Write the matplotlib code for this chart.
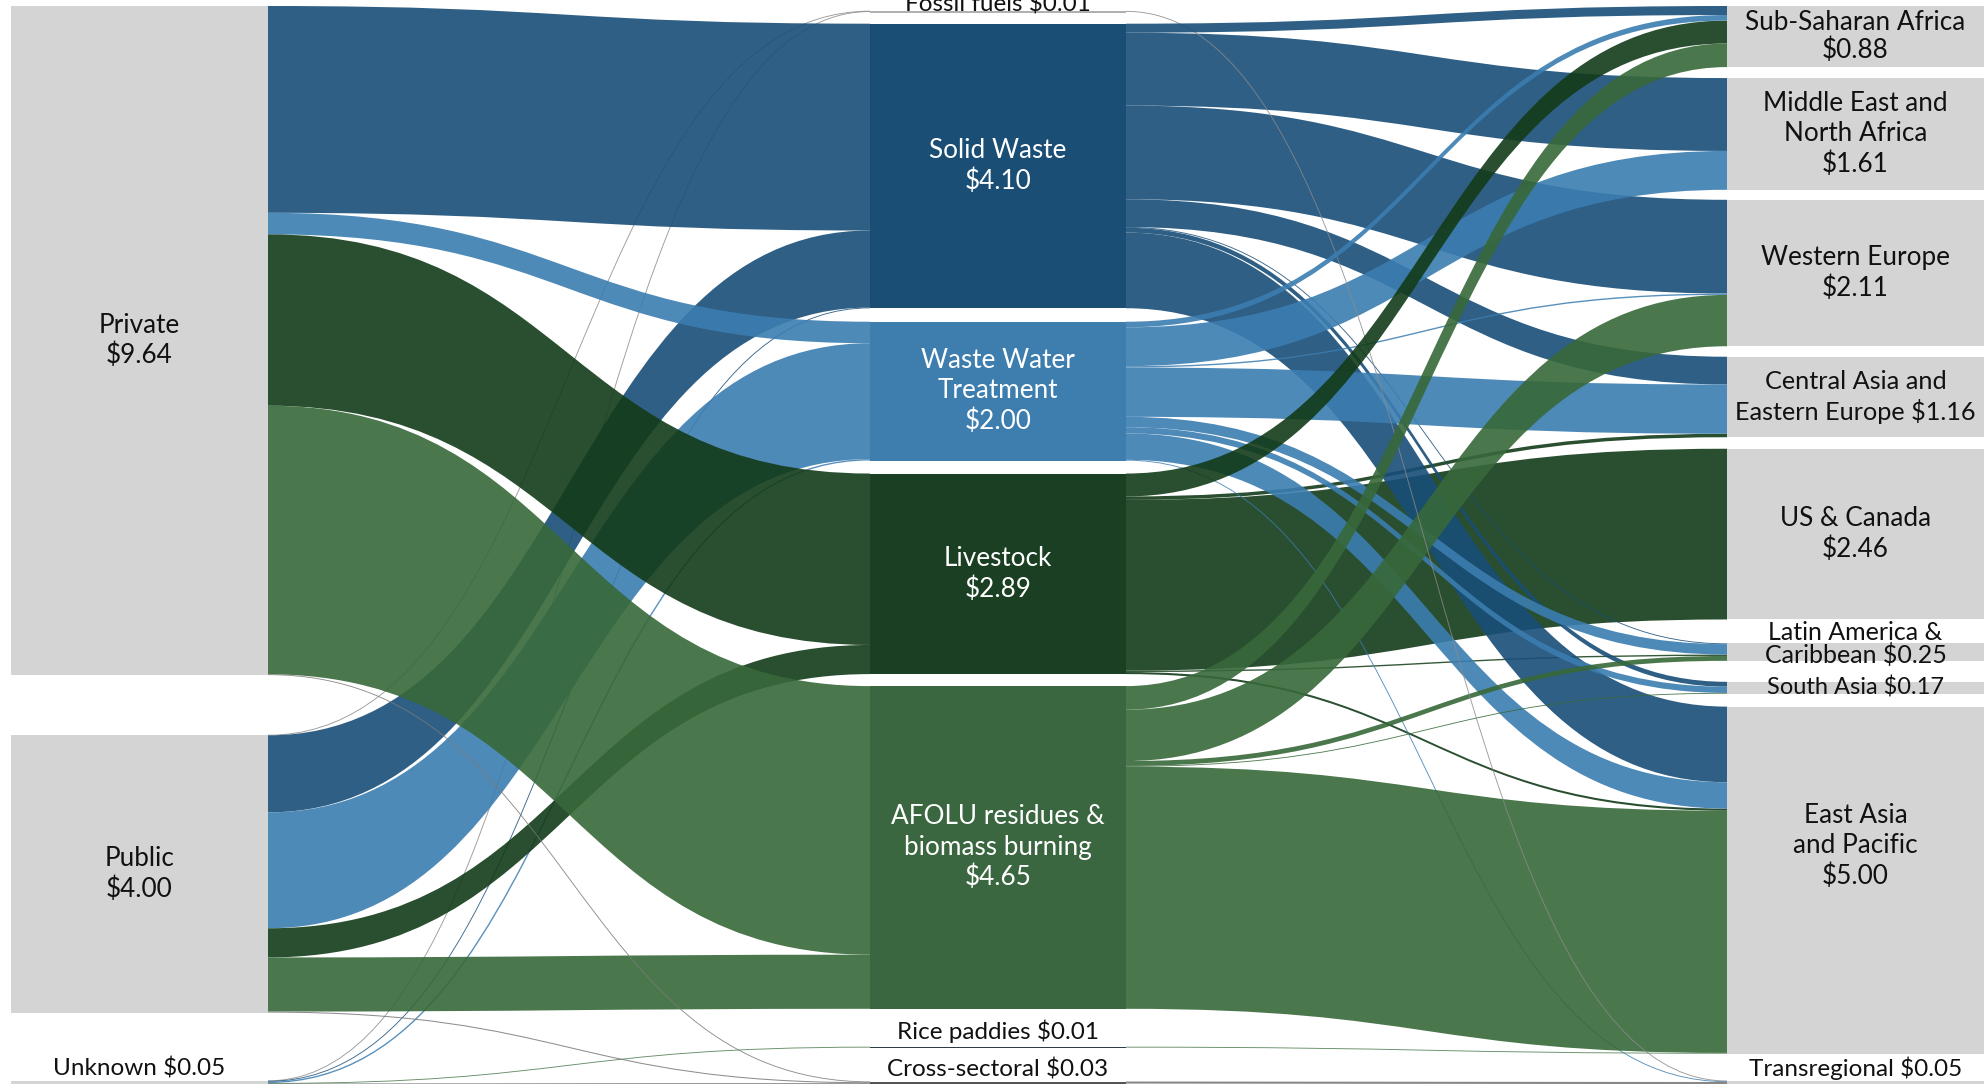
import numpy as np
import matplotlib.pyplot as plt
from matplotlib.path import Path
from matplotlib.patches import PathPatch, Rectangle

plt.rcParams['font.family'] = ['Lato', 'DejaVu Sans']

W, H = 1987, 1084
SCALE = 69.4  # px per $bn

# ---- nodes: key, label, value ----
src_keys = ['Private', 'Public', 'Unknown']
src_labels = ['Private\n$9.64', 'Public\n$4.00', 'Unknown $0.05']
src_vals = [9.64, 4.00, 0.05]

sec_keys = ['Fossil', 'Solid', 'Water', 'Livestock', 'AFOLU', 'Rice', 'Cross']
sec_labels = ['Fossil fuels $0.01', 'Solid Waste\n$4.10', 'Waste Water\nTreatment\n$2.00',
              'Livestock\n$2.89', 'AFOLU residues &\nbiomass burning\n$4.65',
              'Rice paddies $0.01', 'Cross-sectoral $0.03']
sec_vals = [0.01, 4.10, 2.00, 2.89, 4.65, 0.01, 0.03]

reg_keys = ['SSA', 'MENA', 'WE', 'CAEE', 'USC', 'LAC', 'SA', 'EAP', 'Trans']
reg_labels = ['Sub-Saharan Africa\n$0.88', 'Middle East and\nNorth Africa\n$1.61',
              'Western Europe\n$2.11', 'Central Asia and\nEastern Europe $1.16',
              'US & Canada\n$2.46', 'Latin America &\nCaribbean $0.25',
              'South Asia $0.17', 'East Asia\nand Pacific\n$5.00', 'Transregional $0.05']
reg_vals = [0.88, 1.61, 2.11, 1.16, 2.46, 0.25, 0.17, 5.00, 0.05]

# ---- flows ----
link_src = ['Private', 'Private', 'Private', 'Private', 'Private',
            'Public', 'Public', 'Public', 'Public', 'Public', 'Public',
            'Unknown', 'Unknown', 'Unknown', 'Unknown', 'Unknown',
            'Solid', 'Solid', 'Solid', 'Solid', 'Solid', 'Solid', 'Solid',
            'Water', 'Water', 'Water', 'Water', 'Water', 'Water', 'Water', 'Water',
            'Livestock', 'Livestock', 'Livestock', 'Livestock', 'Livestock',
            'AFOLU', 'AFOLU', 'AFOLU', 'AFOLU', 'AFOLU',
            'Fossil', 'Rice', 'Cross']
link_dst = ['Solid', 'Water', 'Livestock', 'AFOLU', 'Cross',
            'Fossil', 'Solid', 'Water', 'Livestock', 'AFOLU', 'Cross',
            'Fossil', 'Solid', 'Water', 'Rice', 'Cross',
            'SSA', 'MENA', 'WE', 'CAEE', 'LAC', 'SA', 'EAP',
            'SSA', 'MENA', 'WE', 'CAEE', 'LAC', 'SA', 'EAP', 'Trans',
            'SSA', 'CAEE', 'USC', 'LAC', 'EAP',
            'SSA', 'WE', 'LAC', 'SA', 'EAP',
            'Trans', 'EAP', 'Trans']
link_val = [2.98, 0.31, 2.47, 3.87, 0.01,
            0.005, 1.11, 1.67, 0.42, 0.78, 0.015,
            0.005, 0.01, 0.02, 0.01, 0.005,
            0.13, 1.05, 1.35, 0.40, 0.01, 0.07, 1.09,
            0.08, 0.56, 0.02, 0.71, 0.15, 0.09, 0.38, 0.01,
            0.33, 0.05, 2.46, 0.02, 0.03,
            0.34, 0.74, 0.07, 0.01, 3.49,
            0.01, 0.01, 0.03]

# ---- layout ----
col_x = [(11, 268), (870, 1126), (1727, 1984)]
col_top = [6, 11, 6]
col_gaps = [[60, 68],
            [12, 13.5, 13, 12, 38, 34],
            [11, 10, 10.5, 11.5, 24, 21, 13, 27]]

node_color = {'Solid': '#1a4e75', 'Water': '#3d7eae', 'Livestock': '#1b3f22',
              'AFOLU': '#3a673f', 'Fossil': '#b0b0b0', 'Rice': '#2f3c47', 'Cross': '#555555'}
flow_color = {'Solid': '#184e78', 'Water': '#3b7db0', 'Livestock': '#133b19',
              'AFOLU': '#376839', 'Fossil': '#8a8a8a', 'Rice': '#4b7a4d', 'Cross': '#7a7a7a'}
GRAY = '#d4d4d4'

nodes = {}
for c, (keys, vals) in enumerate([(src_keys, src_vals), (sec_keys, sec_vals), (reg_keys, reg_vals)]):
    y = col_top[c]
    for i, (k, v) in enumerate(zip(keys, vals)):
        h = v * SCALE
        nodes[k] = dict(col=c, y0=y, y1=y + h, out=y, inn=y)
        y += h
        if i < len(col_gaps[c]):
            y += col_gaps[c][i]

order = {k: i for i, k in enumerate(src_keys + sec_keys + reg_keys)}

fig = plt.figure(figsize=(W / 100, H / 100), dpi=100)
ax = fig.add_axes([0, 0, 1, 1])
ax.set_xlim(0, W)
ax.set_ylim(H, 0)
ax.axis('off')

# stack links on each node in order of the other end
links = list(zip(link_src, link_dst, link_val))
out_sorted = sorted(links, key=lambda l: (order[l[0]], order[l[1]]))
seg = {}
for s, d, v in out_sorted:
    a = nodes[s]['out']
    nodes[s]['out'] += v * SCALE
    seg[(s, d)] = [a, a + v * SCALE]
in_sorted = sorted(links, key=lambda l: (order[l[1]], order[l[0]]))
for s, d, v in in_sorted:
    a = nodes[d]['inn']
    nodes[d]['inn'] += v * SCALE
    seg[(s, d)] += [a, a + v * SCALE]


def curve(x0, y0, x1, y1):
    xm = (x0 + x1) / 2
    return [(xm, y0), (xm, y1), (x1, y1)]


# painting order: left links by target, right links with livestock underneath
# and the ribbons into Sub-Saharan Africa on top
right_rank = {'Livestock': 0, 'Solid': 1, 'Water': 2, 'AFOLU': 3, 'Fossil': 4, 'Rice': 4, 'Cross': 4}


def paint_rank(l):
    s, d, v = l
    if s in src_keys:
        return (0, order[d], order[s])
    return (1, d == 'SSA', right_rank[s], order[d])


for s, d, v in sorted(links, key=paint_rank):
    sector = s if s in flow_color else d
    col = flow_color[sector]
    if s == 'Unknown' and d in ('Solid', 'Water'):
        col = flow_color[d]
    ya0, yb0, ya1, yb1 = seg[(s, d)]
    x0 = col_x[nodes[s]['col']][1]
    x1 = col_x[nodes[d]['col']][0]
    w = v * SCALE
    if w < 1.6:
        ym0 = (ya0 + yb0) / 2
        ym1 = (ya1 + yb1) / 2
        verts = [(x0, ym0)] + curve(x0, ym0, x1, ym1)
        codes = [Path.MOVETO] + [Path.CURVE4] * 3
        ax.add_patch(PathPatch(Path(verts, codes), fc='none', ec=col,
                               lw=max(w, 0.9) * 0.72, alpha=0.85, zorder=2))
    else:
        verts = [(x0, ya0)] + curve(x0, ya0, x1, ya1) + [(x1, yb1)] + curve(x1, yb1, x0, yb0) + [(x0, ya0)]
        codes = ([Path.MOVETO] + [Path.CURVE4] * 3 + [Path.LINETO] +
                 [Path.CURVE4] * 3 + [Path.CLOSEPOLY])
        ax.add_patch(PathPatch(Path(verts, codes), fc=col, ec='none', alpha=0.9, zorder=2))

# nodes and labels
small_nodes = {'Unknown', 'Fossil', 'Rice', 'Cross', 'Trans'}
label_of = dict(zip(src_keys + sec_keys + reg_keys, src_labels + sec_labels + reg_labels))
label_dy = {'EAP': -34, 'LAC': -8, 'Fossil': 5, 'Rice': -3}
label_size = {'LAC': 18, 'SA': 17, 'CAEE': 18.2}
label_ls = {'LAC': 0.95, 'SSA': 1.15}
for k, n in nodes.items():
    xa, xb = col_x[n['col']]
    h = max(n['y1'] - n['y0'], 1.5)
    fc = node_color.get(k, GRAY)
    ax.add_patch(Rectangle((xa, n['y0']), xb - xa, h, fc=fc, ec='none', zorder=4))
    xc = (xa + xb) / 2
    tc = 'white' if k in ('Solid', 'Water', 'Livestock', 'AFOLU') else '#111111'
    if k in small_nodes:
        ax.text(xc, n['y0'] - 1 + label_dy.get(k, 0), label_of[k], ha='center', va='bottom',
                color='#111111', fontsize=17.5, parse_math=False, zorder=5)
    else:
        yc = (n['y0'] + n['y1']) / 2 + label_dy.get(k, 0)
        ax.text(xc, yc, label_of[k], ha='center', va='center', color=tc,
                fontsize=label_size.get(k, 18.8),
                linespacing=label_ls.get(k, 1.26), parse_math=False, zorder=5)

fig.savefig('out.png', dpi=100)
